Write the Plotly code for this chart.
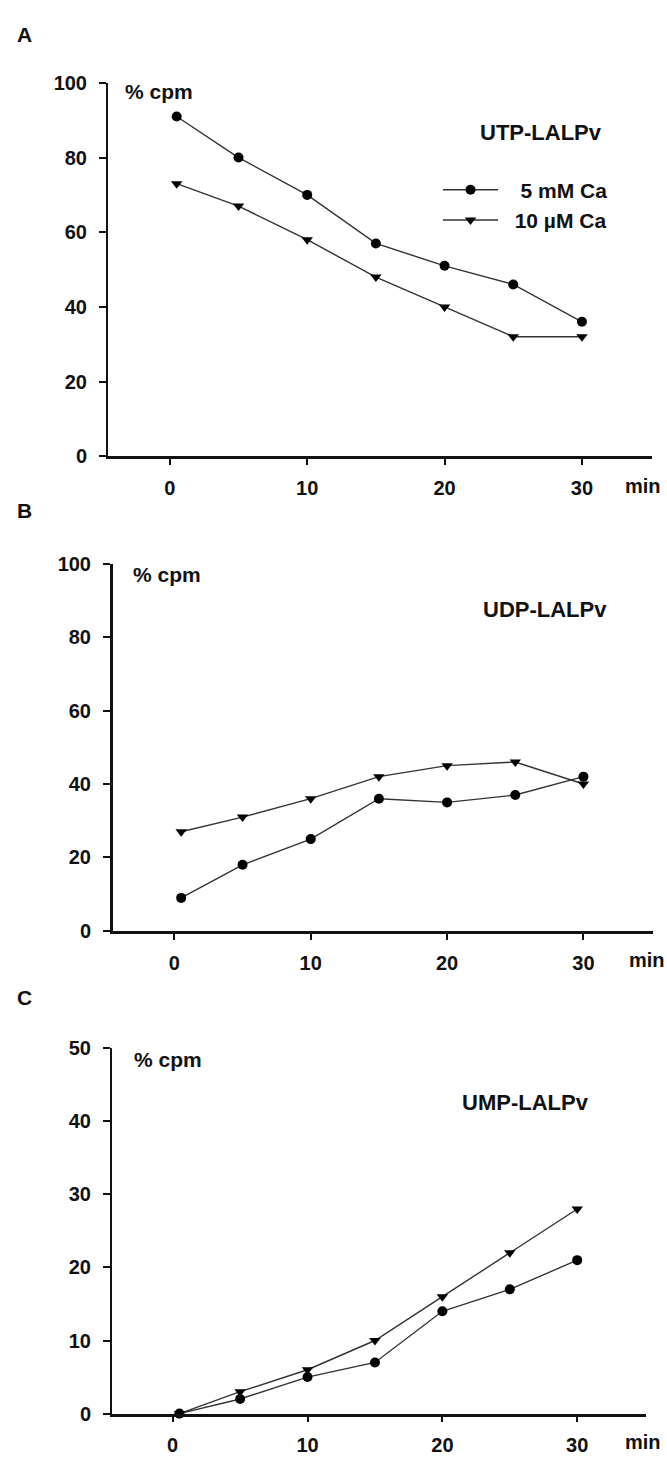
import plotly.graph_objects as go

# ---- data ----
time_min = [0.5, 5, 10, 15, 20, 25, 30]
utp_5mM = [91, 80, 70, 57, 51, 46, 36]
utp_10uM = [73, 67, 58, 48, 40, 32, 32]
udp_5mM = [9, 18, 25, 36, 35, 37, 42]
udp_10uM = [27, 31, 36, 42, 45, 46, 40]
ump_5mM = [0, 2, 5, 7, 14, 17, 21]
ump_10uM = [0, 3, 6, 10, 16, 22, 28]
x_ticks = [0, 10, 20, 30]
y_ticks_ab = [0, 20, 40, 60, 80, 100]
y_ticks_c = [0, 10, 20, 30, 40, 50]
series_names = ["5 mM Ca", "10 \u00b5M Ca"]
panel_names = ["UTP-LALPv", "UDP-LALPv", "UMP-LALPv"]
panel_letters = ["A", "B", "C"]

W, H = 667, 1464
FONT = "Liberation Sans, Arial, sans-serif"
NB = "\u00a0"


def px(v):
    return v / W


def py(v):
    return 1 - v / H


fig = go.Figure()

panels = [
    dict(c=utp_5mM, t=utp_10uM, xd=[108, 652], yd=[452, 73], yr=[0, 100], yt=y_ticks_ab, ylw=2),
    dict(c=udp_5mM, t=udp_10uM, xd=[113, 653], yd=[934, 561], yr=[0, 100], yt=y_ticks_ab, ylw=3),
    dict(c=ump_5mM, t=ump_10uM, xd=[112, 646], yd=[1424, 1053], yr=[0, 50], yt=y_ticks_c, ylw=2),
]
legend_pad = [NB * 3, NB * 2]

for i, p in enumerate(panels):
    sfx = "" if i == 0 else str(i + 1)
    xa, ya = "x" + sfx, "y" + sfx
    fig.add_trace(go.Scatter(
        x=time_min, y=p["c"], mode="lines+markers", name=legend_pad[0] + series_names[0],
        xaxis=xa, yaxis=ya, showlegend=(i == 0), legendgroup="g1",
        line=dict(color="#333333", width=1.4),
        marker=dict(symbol="circle", size=10, color="black"),
        cliponaxis=False,
    ))
    fig.add_trace(go.Scatter(
        x=time_min, y=p["t"], mode="lines+markers", name=legend_pad[1] + series_names[1],
        xaxis=xa, yaxis=ya, showlegend=(i == 0), legendgroup="g2",
        line=dict(color="#333333", width=1.4),
        marker=dict(symbol="triangle-down", size=10, color="black"),
        cliponaxis=False,
    ))
    tickfont = dict(family=FONT, size=20, color="#111", weight="bold")
    fig.layout["xaxis" + sfx] = dict(
        domain=[px(p["xd"][0]), px(p["xd"][1])], anchor=ya,
        range=[-4.5, 35.1], tickvals=x_ticks, showgrid=False, zeroline=False,
        showline=True, linecolor="#111", linewidth=2.5,
        ticks="outside", ticklen=6, tickwidth=1.5, tickcolor="#111",
        tickfont=tickfont, ticklabelstandoff=6,
    )
    fig.layout["yaxis" + sfx] = dict(
        domain=[py(p["yd"][0]), py(p["yd"][1])], anchor=xa,
        range=p["yr"], tickvals=p["yt"], showgrid=False, zeroline=False,
        showline=True, linecolor="#111", linewidth=p["ylw"],
        ticks="outside", ticklen=7, tickwidth=1.5, tickcolor="#111",
        tickfont=tickfont, ticklabelstandoff=8,
    )

annots = []
letter_y = [24, 507, 1002]
cpm_pos = [(123, 82), (131, 572), (132, 1065)]
title_pos = [(541, 123), (545, 608), (525, 1108)]
min_pos = [(623, 482), (627, 963), (623, 1453)]
for i in range(3):
    annots.append(dict(text=panel_letters[i], x=px(15), y=py(letter_y[i]), xref="paper", yref="paper",
                       xanchor="left", yanchor="middle", showarrow=False,
                       font=dict(family=FONT, size=21, color="#111", weight="bold")))
    annots.append(dict(text="% cpm", x=px(cpm_pos[i][0]), y=py(cpm_pos[i][1]), xref="paper", yref="paper",
                       xanchor="left", yanchor="middle", showarrow=False,
                       font=dict(family=FONT, size=21, color="#111", weight="bold")))
    annots.append(dict(text=panel_names[i], x=px(title_pos[i][0]), y=py(title_pos[i][1]), xref="paper", yref="paper",
                       xanchor="center", yanchor="middle", showarrow=False,
                       font=dict(family=FONT, size=22, color="#111", weight="bold")))
    annots.append(dict(text="min", x=px(min_pos[i][0]), y=py(min_pos[i][1]), xref="paper", yref="paper",
                       xanchor="left", yanchor="middle", showarrow=False,
                       font=dict(family=FONT, size=20, color="#111", weight="bold")))

fig.update_layout(
    width=W, height=H, margin=dict(l=0, r=0, t=0, b=0),
    paper_bgcolor="white", plot_bgcolor="white",
    annotations=annots,
    showlegend=True,
    legend=dict(x=px(438), y=py(161), xanchor="left", yanchor="top",
                bgcolor="rgba(0,0,0,0)", itemwidth=55, tracegroupgap=0,
                traceorder="grouped",
                font=dict(family=FONT, size=21, color="#111", weight="bold")),
)

fig.write_html("out.html", config={"displayModeBar": False},
               post_script="document.body.style.margin='0';document.body.style.overflow='hidden';")
